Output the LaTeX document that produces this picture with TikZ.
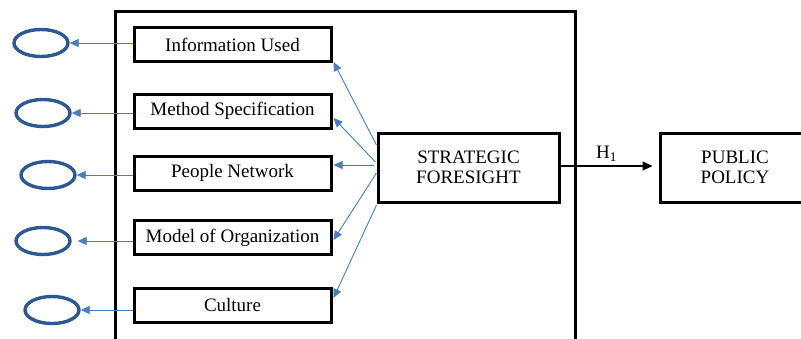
\documentclass[tikz,border=0pt]{standalone}
\usepackage{fontspec}
\setmainfont{Liberation Serif}
\usetikzlibrary{arrows.meta,calc,shapes.geometric}
\definecolor{arrblue}{RGB}{74,126,187}
\definecolor{ellblue}{RGB}{46,88,145}
\begin{document}
\begin{tikzpicture}[x=1pt,y=-1pt,
  font=\fontsize{19}{20}\selectfont,
  ibox/.style={draw=black,line width=3pt,minimum width=197pt,minimum height=34pt,inner sep=0pt},
  bigbox/.style={draw=black,line width=3pt,inner sep=0pt,align=center},
  lat/.style={draw=ellblue,line width=3.4pt,ellipse,minimum width=54pt,minimum height=27pt,inner sep=0pt},
  barr/.style={draw=arrblue,line width=0.9pt,-{Triangle[length=9pt,width=8pt]}},
  karr/.style={draw=black,line width=1.2pt,-{Triangle[length=10pt,width=9pt]}}
]
\useasboundingbox (0,0) rectangle (801,338);
\fill[white] (0,0) rectangle (801,338);
% frame
\draw[line width=3pt] (115,340) -- (115,11) -- (575,11) -- (575,340);
% indicator boxes
\node[ibox] (info) at (232.5,44.5) {Information Used};
\node[ibox] (meth) at (232.5,111) {Method Specification};
\node[ibox] (peop) at (232.5,173) {People Network};
\node[ibox] (model) at (232.5,237.5) {Model of Organization};
\node[ibox] (cult) at (232.5,305) {Culture};
% ellipses
\node[lat] (e1) at (41,43) {};
\node[lat] (e2) at (43,113) {};
\node[lat] (e3) at (48,175) {};
\node[lat] (e4) at (43,241) {};
\node[lat] (e5) at (52,310) {};
% main boxes
\node[bigbox,minimum width=181pt,minimum height=69pt] (sf) at (468.5,167.5) {STRATEGIC\\FORESIGHT};
\node[bigbox,minimum width=150pt,minimum height=69pt] (pp) at (735,167.5) {PUBLIC\\POLICY};
% arrows to ellipses
\draw[barr] (e1.east -| info.west) -- (e1.east);
\draw[barr] (e2.east -| meth.west) -- (e2.east);
\draw[barr] (e3.east -| peop.west) -- (e3.east);
\draw[barr,shorten >=6pt] (e4.east -| model.west) -- (e4.east);
\draw[barr] (e5.east -| cult.west) -- (e5.east);
% arrows from SF
\draw[barr] ($(sf.west)+(0,-22.5)$) -- ($(info.east)+(1,17.5)$);
\draw[barr] ($(sf.west)+(-1,-5.5)$) -- ($(meth.east)+(1,7)$);
\draw[barr] ($(sf.west)+(-3,-2.5)$) -- ($(peop.east)+(1,-8)$);
\draw[barr] ($(sf.west)+(0,5.5)$) -- ($(model.east)+(1,2.5)$);
\draw[barr] ($(sf.west)+(0,37.5)$) -- ($(cult.east)+(1,-7)$);
% H1
\draw[karr] ($(sf.east)+(0,-1.5)$) -- node[above=1pt] {H\textsubscript{1}} ($(pp.west)+(-6,-1.5)$);
\end{tikzpicture}
\end{document}
